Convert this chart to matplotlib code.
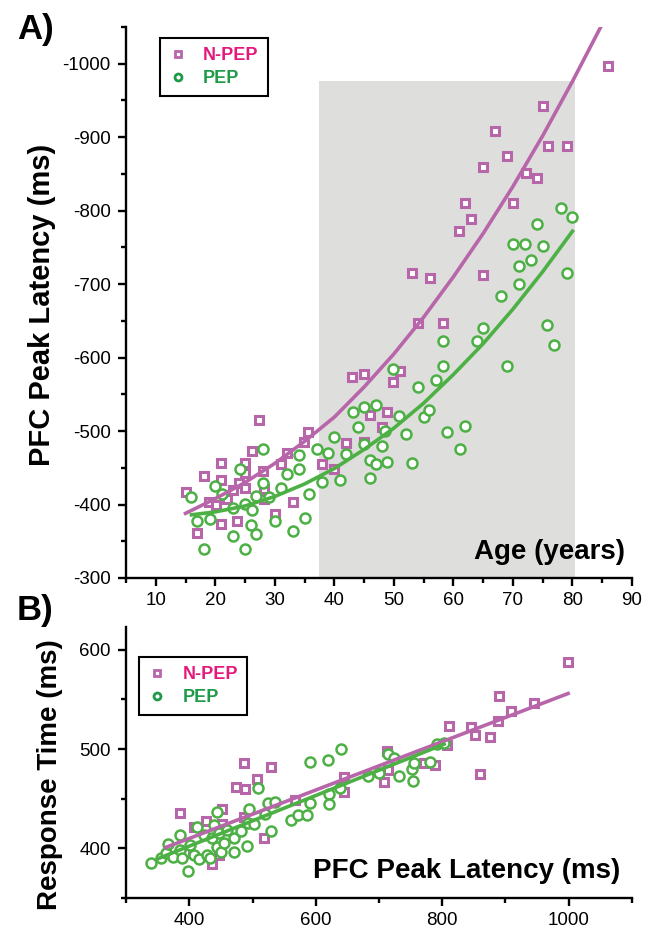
import numpy as np
import matplotlib.pyplot as plt
from matplotlib.ticker import MultipleLocator

plt.rcParams['font.family'] = ['Liberation Sans', 'DejaVu Sans']
plt.rcParams['axes.unicode_minus'] = False

# -----------------------------
# Panel A data: age vs PFC peak latency
# -----------------------------
npep_age = [15.0, 18.1, 17.0, 19.0, 20.1, 21.0, 21.0, 21.0, 22.0, 22.9, 23.7, 24.0,
            25.0, 25.0, 25.0, 26.1, 27.4, 28.0, 28.2, 28.2, 30.0, 31.0, 32.0, 33.0,
            34.9, 35.6, 38.0, 40.0, 41.9, 43.0, 45.0, 44.9, 46.0, 48.0, 48.9, 49.9,
            51.1, 54.0, 53.0, 56.0, 61.0, 62.0, 63.0, 65.0, 65.0, 67.0, 69.0, 70.0,
            72.2, 74.0, 75.0, 75.9, 79.0, 86.0, 58.3]
npep_lat = [-417, -439, -361, -404, -399, -457, -434, -374, -408, -420, -378, -429,
            -457, -443, -423, -473, -515, -446, -421, -408, -387, -455, -470, -404,
            -485, -499, -455, -448, -484, -574, -577, -485, -522, -506, -526, -567,
            -582, -647, -715, -709, -772, -810, -789, -713, -860, -908, -874, -811,
            -851, -845, -943, -888, -888, -997, -647]

pep_age = [15.9, 17.0, 18.1, 19.1, 20.0, 21.1, 23.05, 23.05, 24.2, 25.0, 25.0, 26.1,
           26.0, 26.9, 26.9, 28.0, 28.0, 29.05, 30.0, 31.0, 32.0, 33.0, 34.0, 34.0,
           35.0, 35.8, 37.1, 38.0, 39.0, 40.0, 40.9, 41.9, 43.05, 44.0, 45.0, 45.0,
           46.0, 46.0, 47.0, 47.0, 48.0, 48.5, 48.9, 49.9, 50.9, 52.0, 53.0, 54.0,
           55.0, 55.9, 57.1, 58.2, 58.3, 59.0, 61.1, 62.0, 64.0, 65.0, 68.0, 69.0,
           71.0, 75.8, 76.9, 78.0, 80.0, 74.0, 70.0, 72.0, 75.0, 73.0, 71.0, 79.0]
pep_lat = [-410, -378, -340, -380, -425, -415, -357, -395, -448, -340, -401, -392,
           -372, -360, -411, -475, -429, -410, -377, -423, -442, -364, -467, -448,
           -382, -415, -475, -431, -470, -492, -434, -469, -526, -506, -533, -483,
           -460, -436, -535, -455, -480, -500, -458, -584, -520, -496, -457, -560,
           -519, -529, -570, -588, -623, -499, -476, -507, -623, -640, -684, -588,
           -700, -644, -617, -803, -791, -782, -754, -754, -752, -733, -725, -715]

# fitted curves
npep_fit_age = [15, 20, 25, 30, 35, 40, 45, 50, 55, 60, 65, 70, 75, 80, 85]
npep_fit_lat = [-388, -408, -430, -456, -486, -519, -560, -605, -655, -710, -769,
                -833, -902, -976, -1054]
pep_fit_age = [16, 20, 25, 30, 35, 40, 45, 50, 55, 60, 65, 70, 75, 80]
pep_fit_lat = [-386, -390, -398, -411, -428, -449, -475, -504, -538, -577, -619,
               -666, -717, -772]

shade_age = [37.4, 80.4]
shade_top = -977

# -----------------------------
# Panel B data: PFC peak latency vs response time
# -----------------------------
npep_b_lat = [999, 889, 944.5, 908, 888, 811, 845, 851, 875, 808, 860, 789, 771,
              712, 715, 708, 645, 645, 386, 487, 528.5, 507, 474, 488, 452, 427,
              407, 452, 518, 436, 447, 567, 487, 394]
npep_b_rt = [587.5, 553, 546, 538, 528, 523, 522, 514.5, 512, 504, 475, 483.5, 486.5,
             498, 479, 467, 472, 457, 436, 486.5, 481.5, 470, 461.6, 459.6, 440, 428,
             422, 425, 410, 384, 393, 449, 432, 395]

pep_b_lat = [340, 356, 364, 367, 375, 386, 388, 386, 398, 400.5, 407, 412, 415, 423,
             428, 432.5, 436, 439, 444, 449.6, 455, 444, 447, 460, 471, 471, 481.6,
             492, 493, 495, 503, 508, 519, 524, 528.5, 535, 561.6, 572, 585.6, 591,
             591, 619, 792, 803, 781, 752, 754, 731, 714, 723, 700, 683, 756, 640,
             621, 621, 639]
pep_b_rt = [385.5, 390.6, 395, 404.4, 391.6, 398, 390, 413.5, 377, 403.4, 393, 422,
            389, 413.5, 393, 390, 410, 423.6, 401.7, 396.6, 405, 437, 415, 418.5,
            396.6, 410, 417, 402.4, 426, 439.4, 425, 460.6, 434.7, 445.5, 417.8, 447,
            428.6, 433.7, 433.7, 446, 487.5, 489, 505.4, 506, 487.5, 480, 468, 472.4,
            495.3, 491, 476.4, 472.4, 486, 500, 455, 444.4, 461.3]

npep_b_fit_lat = [363, 999]
npep_b_fit_rt = [401, 556]
pep_b_fit_lat = [352, 803]
pep_b_fit_rt = [390, 505]

# -----------------------------
# Styles
# -----------------------------
PURPLE = '#b866aa'
GREEN = '#4cb044'
LEG_PINK = '#e3197c'
LEG_GREEN = '#1f9a48'
SHADE = '#dededc'


def style_axes(ax):
    for side in ['top', 'right']:
        ax.spines[side].set_visible(False)
    for side in ['left', 'bottom']:
        ax.spines[side].set_linewidth(1.7)
    ax.tick_params(which='major', direction='out', length=6, width=1.7,
                   labelsize=13.5, pad=4)
    ax.tick_params(which='minor', direction='out', length=3.5, width=1.7)
    ax.tick_params(axis='y', which='major', pad=5)


def add_points(ax, xs_sq, ys_sq, xs_c, ys_c):
    ax.plot(xs_sq, ys_sq, linestyle='none', marker='s', markersize=6.0,
            markerfacecolor='white', markeredgecolor=PURPLE, markeredgewidth=2.2,
            zorder=3)
    ax.plot(xs_c, ys_c, linestyle='none', marker='o', markersize=7.2,
            markerfacecolor='white', markeredgecolor=GREEN, markeredgewidth=1.8,
            zorder=4)


def add_legend(ax, anchor):
    h1, = ax.plot([], [], linestyle='none', marker='s', markersize=4.6,
                  markerfacecolor='white', markeredgecolor=PURPLE,
                  markeredgewidth=2.0)
    h2, = ax.plot([], [], linestyle='none', marker='o', markersize=5.0,
                  markerfacecolor='white', markeredgecolor=LEG_GREEN,
                  markeredgewidth=2.0)
    leg = ax.legend([h1, h2], ['N-PEP', 'PEP'], loc='upper left',
                    bbox_to_anchor=anchor, borderaxespad=0, fancybox=False,
                    framealpha=1, edgecolor='black', handlelength=1.0,
                    handletextpad=0.9, labelspacing=0.35, borderpad=0.5,
                    prop={'weight': 'bold', 'size': 13},
                    labelcolor=[LEG_PINK, LEG_GREEN])
    leg.get_frame().set_linewidth(1.5)
    leg.set_zorder(10)


fig = plt.figure(figsize=(6.54, 9.33), dpi=100)

# -----------------------------
# Panel A
# -----------------------------
axA = fig.add_axes([126 / 654, 1 - 578 / 933, 506 / 654, 551 / 933])
axA.fill_between(shade_age, -300, shade_top, color=SHADE, linewidth=0, zorder=0)
add_points(axA, npep_age, npep_lat, pep_age, pep_lat)
axA.plot(npep_fit_age, npep_fit_lat, color=PURPLE, linewidth=2.6, zorder=5)
axA.plot(pep_fit_age, pep_fit_lat, color=GREEN, linewidth=2.6, zorder=5)
axA.set_xlim(5, 90)
axA.set_ylim(-300, -1050)
axA.xaxis.set_major_locator(MultipleLocator(10))
axA.xaxis.set_minor_locator(MultipleLocator(5))
axA.yaxis.set_major_locator(MultipleLocator(100))
axA.yaxis.set_minor_locator(MultipleLocator(50))
style_axes(axA)
add_legend(axA, (0.067, 0.98))
axA.text(0.986, 0.035, 'Age (years)', transform=axA.transAxes, ha='right',
         va='baseline', fontsize=20, fontweight='bold')

# -----------------------------
# Panel B
# -----------------------------
axB = fig.add_axes([126 / 654, 1 - 898 / 933, 506 / 654, 271 / 933])
add_points(axB, npep_b_lat, npep_b_rt, pep_b_lat, pep_b_rt)
axB.plot(npep_b_fit_lat, npep_b_fit_rt, color=PURPLE, linewidth=2.6, zorder=5)
axB.plot(pep_b_fit_lat, pep_b_fit_rt, color=GREEN, linewidth=2.6, zorder=5)
axB.set_xlim(300, 1100)
axB.set_ylim(350, 623)
axB.xaxis.set_major_locator(MultipleLocator(200))
axB.xaxis.set_minor_locator(MultipleLocator(100))
axB.yaxis.set_major_locator(MultipleLocator(100))
axB.yaxis.set_minor_locator(MultipleLocator(50))
style_axes(axB)
add_legend(axB, (0.026, 0.889))
axB.text(0.976, 0.074, 'PFC Peak Latency (ms)', transform=axB.transAxes,
         ha='right', va='baseline', fontsize=20, fontweight='bold')

# panel letters and y labels
fig.text(17 / 654, 1 - 39 / 933, 'A)', fontsize=25, fontweight='bold',
         ha='left', va='baseline')
fig.text(17 / 654, 1 - 620 / 933, 'B)', fontsize=25, fontweight='bold',
         ha='left', va='baseline')
fig.text(42 / 654, 1 - 305 / 933, 'PFC Peak Latency (ms)', rotation=90,
         fontsize=21, fontweight='bold', ha='center', va='center')
fig.text(50 / 654, 1 - 775 / 933, 'Response Time (ms)', rotation=90,
         fontsize=20, fontweight='bold', ha='center', va='center')

fig.savefig('out.png', dpi=100)
